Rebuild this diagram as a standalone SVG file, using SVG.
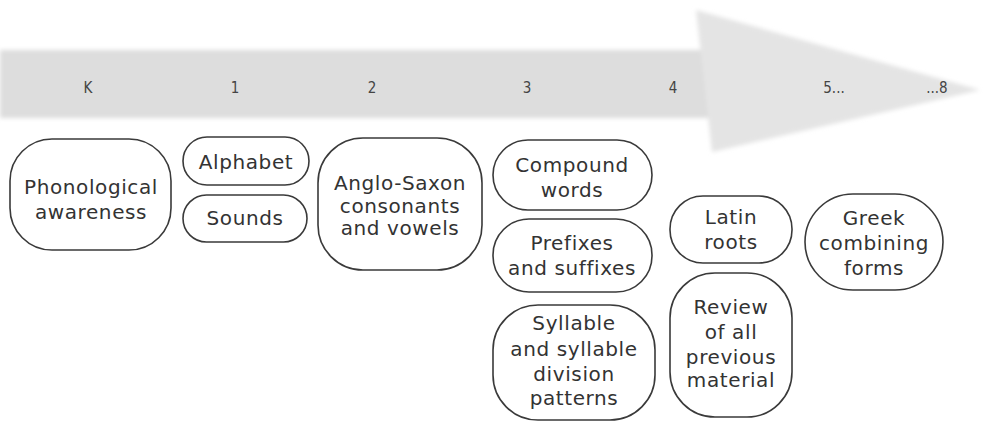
<svg xmlns="http://www.w3.org/2000/svg" width="983" height="423" viewBox="0 0 983 423">
<defs>
<filter id="soft" x="-5%" y="-10%" width="110%" height="120%"><feGaussianBlur stdDeviation="2"/></filter>
<style>
.node rect{fill:#fff;stroke:#3a3a3a;stroke-width:1.6}
.node text{font-family:"DejaVu Sans",sans-serif;font-size:20px;fill:#333;text-anchor:middle;dominant-baseline:central;letter-spacing:0.6px}
.grade{font-family:"DejaVu Sans Condensed","Liberation Sans Narrow",sans-serif;font-size:15px;fill:#444;text-anchor:middle;dominant-baseline:central}
</style>
</defs>
<rect width="983" height="423" fill="#fff"/>
<g id="arrow" filter="url(#soft)">
<rect x="0" y="50" width="720" height="68" fill="#dddddd"/>
<polygon points="696,10 980,90 712,152" fill="#e4e4e4"/>
</g>
<g id="grades">
<text class="grade" x="88" y="88">K</text>
<text class="grade" x="235" y="88">1</text>
<text class="grade" x="372" y="88">2</text>
<text class="grade" x="527" y="88">3</text>
<text class="grade" x="673" y="88">4</text>
<text class="grade" x="834" y="88">5...</text>
<text class="grade" x="937" y="88">...8</text>
</g>
<g id="connectors"></g>
<g id="n-phon" class="node"><rect x="10" y="139" width="161" height="111" rx="42"/><text x="91" y="187">Phonological</text><text x="91" y="212">awareness</text></g>
<g id="n-alpha" class="node"><rect x="183" y="137" width="126" height="48" rx="24"/><text x="246" y="162">Alphabet</text></g>
<g id="n-sounds" class="node"><rect x="183" y="195" width="124" height="47" rx="23.5"/><text x="245" y="218">Sounds</text></g>
<g id="n-anglo" class="node"><rect x="318" y="138" width="164" height="132" rx="45"/><text x="400" y="183">Anglo-Saxon</text><text x="400" y="206">consonants</text><text x="400" y="228">and vowels</text></g>
<g id="n-compound" class="node"><rect x="493" y="140" width="159" height="70" rx="35"/><text x="572" y="165">Compound</text><text x="572" y="190">words</text></g>
<g id="n-prefix" class="node"><rect x="493" y="219" width="159" height="73" rx="36"/><text x="572" y="243">Prefixes</text><text x="572" y="268">and suffixes</text></g>
<g id="n-syllable" class="node"><rect x="493" y="305" width="162" height="115" rx="45"/><text x="574" y="323">Syllable</text><text x="574" y="349">and syllable</text><text x="574" y="374">division</text><text x="574" y="398">patterns</text></g>
<g id="n-latin" class="node"><rect x="670" y="196" width="122" height="67" rx="33"/><text x="731" y="217">Latin</text><text x="731" y="242">roots</text></g>
<g id="n-review" class="node"><rect x="670" y="273" width="122" height="144" rx="45"/><text x="731" y="307">Review</text><text x="731" y="332">of all</text><text x="731" y="357">previous</text><text x="731" y="380">material</text></g>
<g id="n-greek" class="node"><rect x="805" y="194" width="138" height="96" rx="48"/><text x="874" y="218">Greek</text><text x="874" y="243">combining</text><text x="874" y="268">forms</text></g>
</svg>
